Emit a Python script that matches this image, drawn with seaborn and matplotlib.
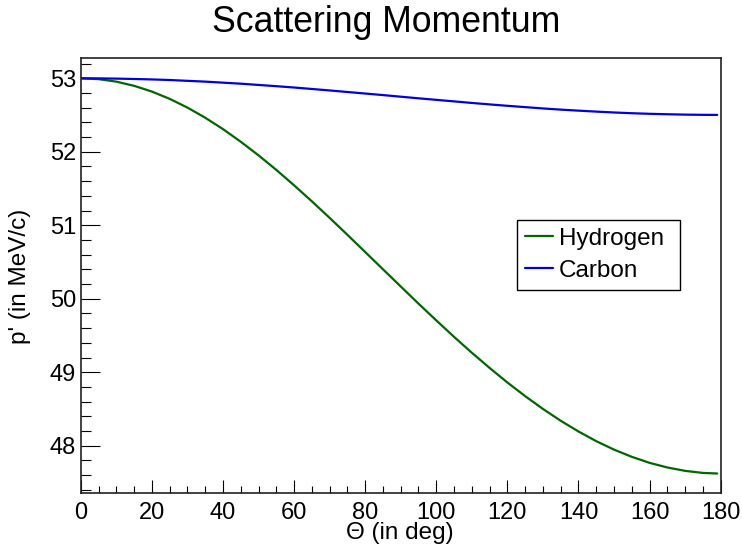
import matplotlib
matplotlib.use("Agg")
import matplotlib.pyplot as plt
from matplotlib.ticker import MultipleLocator
import numpy as np
import pandas as pd
import seaborn as sns

# Scattering angle grid (deg)
theta_deg = [0, 5, 10, 15, 20, 25, 30, 35, 40, 45, 50, 55, 60, 65, 70, 75, 80, 85,
             90, 95, 100, 105, 110, 115, 120, 125, 130, 135, 140, 145, 150, 155,
             160, 165, 170, 175, 179]

# Outgoing momentum p' (MeV/c) for each target
hydrogen_p = [53.000, 52.989, 52.955, 52.898, 52.820, 52.721, 52.602, 52.464,
              52.309, 52.137, 51.952, 51.754, 51.544, 51.326, 51.101, 50.870,
              50.636, 50.401, 50.167, 49.933, 49.705, 49.481, 49.265, 49.058,
              48.860, 48.674, 48.500, 48.339, 48.193, 48.061, 47.946, 47.848,
              47.766, 47.703, 47.657, 47.629, 47.621]
carbon_p = [53.000, 52.999, 52.996, 52.991, 52.985, 52.977, 52.966, 52.955,
            52.941, 52.927, 52.910, 52.893, 52.875, 52.855, 52.835, 52.814,
            52.793, 52.772, 52.750, 52.728, 52.707, 52.686, 52.665, 52.645,
            52.626, 52.608, 52.590, 52.574, 52.560, 52.547, 52.535, 52.525,
            52.517, 52.511, 52.506, 52.503, 52.502]

series_names = ["Hydrogen", "Carbon"]
series_colors = {"Hydrogen": "#006600", "Carbon": "#0000dd"}

df = pd.DataFrame({
    "theta": theta_deg * 2,
    "p": hydrogen_p + carbon_p,
    "target": [series_names[0]] * len(theta_deg) + [series_names[1]] * len(theta_deg),
})

sns.set_style("white")
plt.rcParams["font.family"] = ["Liberation Sans", "DejaVu Sans"]
plt.rcParams["text.color"] = "black"
plt.rcParams["axes.labelcolor"] = "black"
plt.rcParams["xtick.color"] = "black"
plt.rcParams["ytick.color"] = "black"

fig = plt.figure(figsize=(7.42, 5.49), dpi=100)
ax = fig.add_axes([0.1088, 0.1015, 0.8625, 0.7929])

sns.lineplot(data=df, x="theta", y="p", hue="target", hue_order=series_names,
             palette=series_colors, linewidth=1.6, sort=False, ax=ax)

ax.set_xlim(0, 180)
ax.set_ylim(47.352, 53.277)
ax.xaxis.set_major_locator(MultipleLocator(20))
ax.xaxis.set_minor_locator(MultipleLocator(5))
ax.yaxis.set_major_locator(MultipleLocator(1))
ax.yaxis.set_minor_locator(MultipleLocator(0.2))
ax.yaxis.set_major_formatter(matplotlib.ticker.FormatStrFormatter("%d"))

ax.tick_params(axis="both", which="both", direction="in", colors="black",
               labelsize=17, width=0.8, bottom=True, left=True,
               top=False, right=False)
ax.tick_params(axis="y", which="major", length=14, pad=3.4)
ax.tick_params(axis="y", which="minor", length=7.2)
ax.tick_params(axis="x", which="major", length=9.4, pad=6)
ax.tick_params(axis="x", which="minor", length=4.8)

for side in ["left", "bottom", "right", "top"]:
    ax.spines[side].set_visible(True)
    ax.spines[side].set_color("#222222")
    ax.spines[side].set_linewidth(1.2)

ax.set_xlabel("")
ax.set_ylabel("")
fig.text(400 / 742, 1 - 533 / 549, "\u0398 (in deg)", ha="center", va="center",
         fontsize=17.5, color="black")
fig.text(20 / 742, 1 - 276 / 549, "p' (in MeV/c)", ha="center", va="center",
         rotation=90, fontsize=17.5, color="black")
fig.text(386 / 742, 1 - 22 / 549, "Scattering Momentum", ha="center",
         va="center", fontsize=25.7, color="black")

handles, labels = ax.get_legend_handles_labels()
leg = ax.legend(handles, labels, loc="upper left",
                bbox_to_anchor=(0.682, 0.47, 0.255, 0.158), mode="expand",
                borderaxespad=0,
                fontsize=17.5, frameon=True, fancybox=False,
                edgecolor="black", framealpha=1, handlelength=1.15,
                handletextpad=0.25, borderpad=0.32, labelspacing=0.42)
leg.get_frame().set_linewidth(1.0)
for t in leg.get_texts():
    t.set_color("black")

fig.savefig("out.png", dpi=100)
